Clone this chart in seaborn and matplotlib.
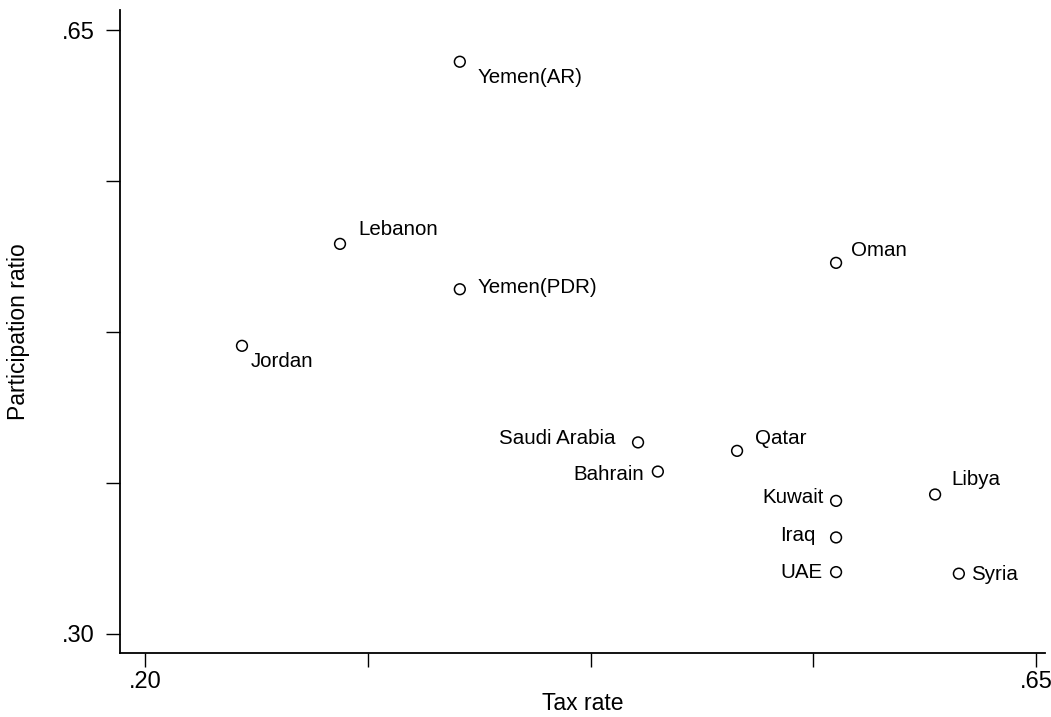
import numpy as np
import pandas as pd
import seaborn as sns
import matplotlib
matplotlib.use("Agg")
import matplotlib.pyplot as plt

# values
countries = ["Yemen(AR)", "Lebanon", "Yemen(PDR)", "Jordan", "Oman", "Saudi Arabia",
             "Bahrain", "Qatar", "Kuwait", "Libya", "Iraq", "UAE", "Syria"]
tax_rate = [0.359, 0.2985, 0.359, 0.249, 0.549, 0.449,
            0.459, 0.499, 0.549, 0.599, 0.549, 0.549, 0.611]
participation = [0.6316, 0.526, 0.4997, 0.4669, 0.515, 0.4109,
                 0.394, 0.406, 0.377, 0.3807, 0.3558, 0.3357, 0.3348]

x_ticks = [0.20, 0.3125, 0.425, 0.5375, 0.65]
x_ticklabels = [".20", "", "", "", ".65"]
y_ticks = [0.30, 0.3875, 0.475, 0.5625, 0.65]
y_ticklabels = [".30", "", "", "", ".65"]

# label offsets (points) and alignment for each country
label_pos = {
    "Yemen(AR)": (13, -11, "left"),
    "Lebanon": (13, 10, "left"),
    "Yemen(PDR)": (13, 1, "left"),
    "Jordan": (6, -11.5, "left"),
    "Oman": (11, 9, "left"),
    "Saudi Arabia": (-16, 3, "right"),
    "Bahrain": (-10, -2, "right"),
    "Qatar": (13, 9, "left"),
    "Kuwait": (-9, 2.5, "right"),
    "Libya": (12, 11, "left"),
    "Iraq": (-15, 1.5, "right"),
    "UAE": (-10, 0, "right"),
    "Syria": (9, -0.5, "left"),
}

df = pd.DataFrame({"country": countries, "tax": tax_rate, "part": participation})

sns.set_style("ticks")
plt.rcParams["font.family"] = ["Liberation Sans", "DejaVu Sans"]

fig = plt.figure(figsize=(10.51, 7.17), dpi=100)
ax = fig.add_axes([120 / 1051, 1 - 653 / 717, 925 / 1051, 643 / 717])

sns.scatterplot(data=df, x="tax", y="part", ax=ax, marker="o", s=60,
                facecolor="none", edgecolor="black", linewidth=1.1)

for c, xv, yv in zip(countries, tax_rate, participation):
    dx, dy, ha = label_pos[c]
    ax.annotate(c, (xv, yv), xytext=(dx, dy), textcoords="offset points",
                ha=ha, va="center", fontsize=14.8, color="black")

ax.set_xlim(0.1874, 0.6545)
ax.set_ylim(0.2888, 0.6616)
ax.set_xticks(x_ticks)
ax.set_xticklabels(x_ticklabels)
ax.set_yticks(y_ticks)
ax.set_yticklabels(y_ticklabels)
ax.tick_params(axis="both", length=10, width=1.0, color="black",
               labelsize=17, labelcolor="black")
ax.tick_params(axis="x", pad=3)
ax.tick_params(axis="y", pad=8)

sns.despine(ax=ax)
for side in ["left", "bottom"]:
    ax.spines[side].set_linewidth(1.3)
    ax.spines[side].set_color("black")

ax.set_xlabel("Tax rate", fontsize=16.5, va="center", color="black")
ax.set_ylabel("Participation ratio", fontsize=16.5, va="center", color="black")
ax.xaxis.set_label_coords(0.5, -0.078)
ax.yaxis.set_label_coords(-0.110, 0.5)

fig.savefig("out.png", dpi=100)
